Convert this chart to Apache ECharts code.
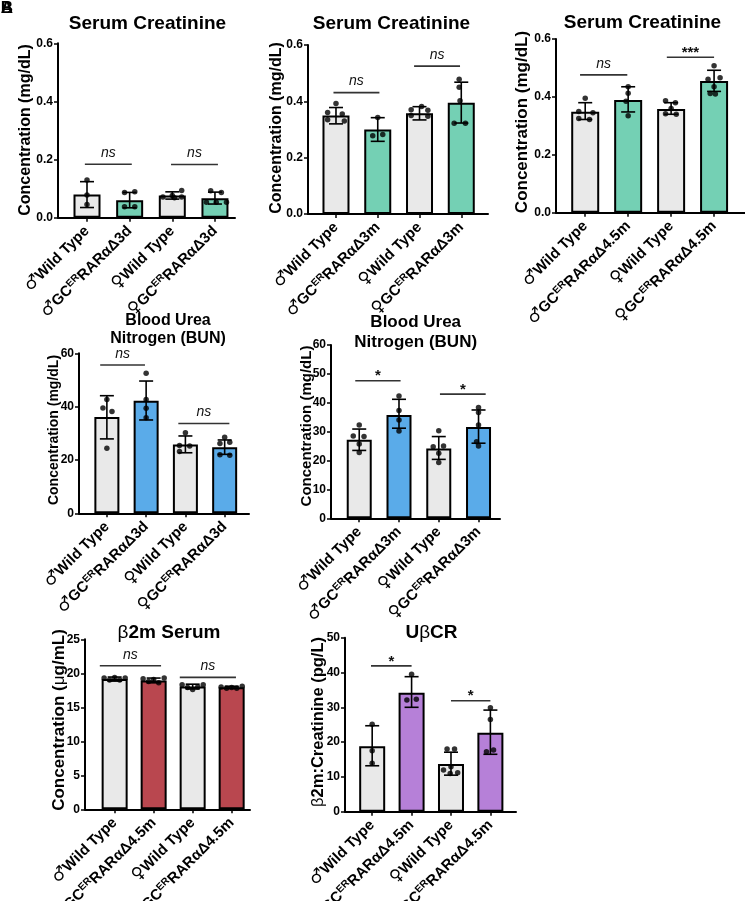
<!DOCTYPE html>
<html>
<head>
<meta charset="utf-8">
<script src="https://cdn.jsdelivr.net/npm/echarts@6.0.0/dist/echarts.min.js"></script>
<style>
  html, body { margin: 0; padding: 0; background: #fff; }
  #main { width: 745px; height: 901px; }
</style>
</head>
<body>
<div id="main"></div>
<script>
// group labels ("^" marks the superscript part)
var cats3d = ['♂Wild Type', '♂GC^ER^RARαΔ3d', '♀Wild Type', '♀GC^ER^RARαΔ3d'];
var cats3m = ['♂Wild Type', '♂GC^ER^RARαΔ3m', '♀Wild Type', '♀GC^ER^RARαΔ3m'];
var cats45 = ['♂Wild Type', '♂GC^ER^RARαΔ4.5m', '♀Wild Type', '♀GC^ER^RARαΔ4.5m'];

// Serum creatinine, 3 days
var creat3dMean = [0.080, 0.060, 0.076, 0.067];
var creat3dSd = [[0.035, 0.124], [0.034, 0.087], [0.064, 0.089], [0.047, 0.088]];
var creat3dPts = [
    [[0, 0.130], [0, 0.078], [0, 0.045]],
    [[-0.12, 0.087], [0.12, 0.089], [-0.12, 0.038], [0.12, 0.038]],
    [[-0.22, 0.071], [0, 0.076], [0.22, 0.094], [0.22, 0.071], [0.05, 0.069]],
    [[-0.1, 0.093], [0.15, 0.087], [-0.2, 0.053], [0.03, 0.053], [0.27, 0.053]]
];
var creat3dSig = [[-0.05, 1.05, 0.184, 'ns'], [1.97, 3.07, 0.183, 'ns']];

// Serum creatinine, 3 months
var creat3mMean = [0.350, 0.300, 0.358, 0.395];
var creat3mSd = [[0.320, 0.378], [0.258, 0.342], [0.334, 0.381], [0.323, 0.468]];
var creat3mPts = [
    [[0, 0.392], [-0.2, 0.360], [0.15, 0.355], [-0.2, 0.335], [0.2, 0.330]],
    [[0, 0.343], [-0.12, 0.278], [0.12, 0.282]],
    [[0.05, 0.382], [-0.2, 0.370], [0.2, 0.368], [-0.2, 0.350], [0.2, 0.347]],
    [[-0.05, 0.478], [-0.05, 0.450], [-0.03, 0.402], [-0.17, 0.322], [0.1, 0.322]]
];
var creat3mSig = [[-0.06, 1.04, 0.431, 'ns'], [1.87, 2.97, 0.525, 'ns']];

// Serum creatinine, 4.5 months
var creat45Mean = [0.349, 0.389, 0.358, 0.455];
var creat45Sd = [[0.322, 0.380], [0.348, 0.435], [0.340, 0.380], [0.419, 0.492]];
var creat45Pts = [
    [[0, 0.395], [-0.15, 0.350], [0.18, 0.345], [-0.15, 0.325], [0.1, 0.322]],
    [[0, 0.435], [0, 0.413], [-0.05, 0.385], [0, 0.335]],
    [[-0.13, 0.387], [0.1, 0.380], [0, 0.360], [-0.13, 0.342], [0.12, 0.340]],
    [[0, 0.508], [-0.14, 0.461], [0.14, 0.466], [0, 0.435], [-0.09, 0.412], [0.03, 0.410]]
];
var creat45Sig = [[-0.12, 0.98, 0.476, 'ns'], [1.9, 3.0, 0.537, '***']];

// BUN, 3 days
var bun3dMean = [36.1, 42.2, 25.8, 24.8];
var bun3dSd = [[27.9, 44.1], [35.0, 49.6], [22.7, 29.0], [22.1, 27.5]];
var bun3dPts = [
    [[0, 42.7], [-0.1, 39.5], [0.13, 38.2], [0, 24.4]],
    [[0, 52.5], [0, 42.7], [0, 39.4], [0, 35.8]],
    [[0, 30.2], [-0.15, 25.4], [0.11, 25.2], [-0.15, 23.2]],
    [[0, 28.5], [-0.12, 26.2], [0.13, 26.6], [-0.12, 22.0], [0.13, 21.8]]
];
var bun3dSig = [[-0.17, 0.97, 55.6, 'ns'], [1.82, 3.12, 33.7, 'ns']];

// BUN, 3 months
var bun3mMean = [27.2, 35.8, 24.2, 31.6];
var bun3mSd = [[23.5, 30.9], [31.2, 41.2], [20.4, 28.3], [26.0, 37.5]];
var bun3mPts = [
    [[0, 32.3], [-0.15, 28.5], [0.12, 28.3], [0, 25.7], [0, 22.8]],
    [[0, 42.3], [0, 37.3], [0, 34.0], [0, 30.2]],
    [[0, 30.3], [-0.14, 24.8], [0.12, 25.0], [0, 22.5], [0, 19.3]],
    [[0, 38.4], [0, 36.6], [0, 32.3], [-0.05, 26.5], [0, 25.0]]
];
var bun3mSig = [[-0.1, 1.04, 47.6, '*'], [2.03, 3.18, 43.0, '*']];

// beta2m serum
var b2mMean = [19.15, 18.95, 18.05, 17.95];
var b2mSd = [[18.85, 19.45], [18.6, 19.3], [17.7, 18.4], [17.8, 18.1]];
var b2mPts = [
    [[-0.27, 19.3], [-0.13, 19.0], [0, 19.4], [0.13, 19.0], [0.27, 19.3]],
    [[-0.27, 19.2], [-0.13, 18.8], [0, 19.1], [0.13, 18.6], [0.27, 19.3]],
    [[-0.27, 18.3], [-0.13, 17.9], [0, 17.6], [0.13, 18.0], [0.27, 18.3]],
    [[-0.27, 18.0], [-0.13, 17.8], [0, 17.9], [0.13, 17.8], [0.27, 18.1]]
];
var b2mSig = [[-0.38, 1.19, 21.1, 'ns'], [1.67, 3.11, 19.4, 'ns']];

// UbetaCR
var ubcrMean = [18.8, 34.2, 13.7, 22.7];
var ubcrSd = [[13.2, 24.7], [30.0, 38.8], [10.5, 17.1], [16.5, 29.2]];
var ubcrPts = [
    [[0, 25.1], [0, 17.5], [0, 13.9]],
    [[0, 39.5], [-0.12, 32.1], [0.12, 32.3]],
    [[-0.1, 18.0], [0.09, 18.0], [-0.19, 12.0], [0, 12.9], [-0.02, 11.0], [0.17, 11.2]],
    [[0, 29.9], [0, 26.5], [-0.1, 17.2], [0.08, 17.7]]
];
var ubcrSig = [[-0.03, 1.0, 41.9, '*'], [2.0, 3.0, 31.9, '*']];

var GRAY = '#e9e9e9';
var FONT = '"Liberation Sans", Arial, sans-serif';
var SYM_FONT = '"DejaVu Sans", sans-serif';

// layout of every panel (pixels), data comes from the arrays above
var panels = [
    {left: 58, top: 43.3, width: 177, height: 174.4, xMin: -0.68, xMax: 3.47, yMax: 0.6, yInt: 0.2, dec: 1, barW: 27,
        cats: cats3d, color: '#74d0b4', mean: creat3dMean, sd: creat3dSd, pts: creat3dPts, sig: creat3dSig},
    {left: 308, top: 45, width: 180, height: 169, xMin: -0.67, xMax: 3.64, yMax: 0.6, yInt: 0.2, dec: 1, barW: 27,
        cats: cats3m, color: '#74d0b4', mean: creat3mMean, sd: creat3mSd, pts: creat3mPts, sig: creat3mSig},
    {left: 556, top: 39, width: 189, height: 173.7, xMin: -0.68, xMax: 3.72, yMax: 0.6, yInt: 0.2, dec: 1, barW: 28,
        cats: cats45, color: '#74d0b4', mean: creat45Mean, sd: creat45Sd, pts: creat45Pts, sig: creat45Sig},
    {left: 79, top: 353.3, width: 170, height: 160, xMin: -0.71, xMax: 3.62, yMax: 60, yInt: 20, dec: 0, barW: 25,
        cats: cats3d, color: '#5aabe9', mean: bun3dMean, sd: bun3dSd, pts: bun3dPts, sig: bun3dSig},
    {left: 331, top: 345, width: 169, height: 173.3, xMin: -0.71, xMax: 3.54, yMax: 60, yInt: 10, dec: 0, barW: 25,
        cats: cats3m, color: '#5aabe9', mean: bun3mMean, sd: bun3mSd, pts: bun3mPts, sig: bun3mSig},
    {left: 85, top: 639.3, width: 165, height: 170, xMin: -0.76, xMax: 3.47, yMax: 25, yInt: 5, dec: 0, barW: 26,
        cats: cats45, color: '#b9474f', mean: b2mMean, sd: b2mSd, pts: b2mPts, sig: b2mSig},
    {left: 345, top: 637.7, width: 171, height: 174, xMin: -0.69, xMax: 3.65, yMax: 50, yInt: 10, dec: 0, barW: 26,
        cats: cats45, color: '#b680d8', mean: ubcrMean, sd: ubcrSd, pts: ubcrPts, sig: ubcrSig}
];

function labelFormatter(cats) {
    return function (v) {
        var s = cats[Math.round(v)];
        if (!s) return '';
        var sym = s.charAt(0);
        var p = s.slice(1).split('^');
        var out = '{g|' + sym + '}';
        if (p.length === 1) return out + '{n|' + p[0] + '}';
        return out + '{n|' + p[0] + '}{s|' + p[1] + '}{n|' + p[2] + '}';
    };
}

function renderErr(params, api) {
    var x = api.value(0);
    var lo = api.coord([x, api.value(1)]);
    var hi = api.coord([x, api.value(2)]);
    var w = 7;
    var st = {stroke: '#000', lineWidth: 1.6};
    return {
        type: 'group',
        children: [
            {type: 'line', shape: {x1: lo[0], y1: lo[1], x2: hi[0], y2: hi[1]}, style: st},
            {type: 'line', shape: {x1: hi[0] - w, y1: hi[1], x2: hi[0] + w, y2: hi[1]}, style: st},
            {type: 'line', shape: {x1: lo[0] - w, y1: lo[1], x2: lo[0] + w, y2: lo[1]}, style: st}
        ]
    };
}

function makeSig(sig) {
    return function (params, api) {
        var s = sig[params.dataIndex];
        var a = api.coord([s[0], s[2]]);
        var b = api.coord([s[1], s[2]]);
        var isNs = s[3] === 'ns';
        return {
            type: 'group',
            children: [
                {type: 'line', shape: {x1: a[0], y1: a[1], x2: b[0], y2: b[1]},
                    style: {stroke: '#333', lineWidth: 1.6}},
                {type: 'text', x: (a[0] + b[0]) / 2, y: isNs ? a[1] - 4 : a[1] + 3,
                    style: {text: s[3], align: 'center', verticalAlign: 'bottom', fill: '#111',
                        font: isNs ? 'italic 14px ' + FONT : 'bold 15px ' + FONT}}
            ]
        };
    };
}

var grids = [], xAxes = [], yAxes = [], series = [];
panels.forEach(function (p, k) {
    grids.push({left: p.left, top: p.top, width: p.width, height: p.height, outerBoundsMode: 'none'});
    xAxes.push({
        type: 'value', gridIndex: k, min: p.xMin, max: p.xMax,
        splitLine: {show: false},
        axisLine: {onZero: false, lineStyle: {color: '#000', width: 2}},
        axisTick: {show: true, customValues: [0, 1, 2, 3], length: 4, lineStyle: {color: '#000', width: 1.5}},
        axisLabel: {
            customValues: [0, 1, 2, 3], rotate: 45, margin: 11,
            formatter: labelFormatter(p.cats),
            rich: {
                g: {fontSize: 17, fontWeight: 'bold', fontFamily: SYM_FONT, color: '#000'},
                n: {fontSize: 15, fontWeight: 'bold', fontFamily: FONT, color: '#000'},
                s: {fontSize: 10, fontWeight: 'bold', fontFamily: FONT, color: '#000', verticalAlign: 'top'}
            }
        }
    });
    yAxes.push({
        type: 'value', gridIndex: k, min: 0, max: p.yMax, interval: p.yInt,
        splitLine: {show: false},
        axisLine: {show: true, onZero: false, lineStyle: {color: '#000', width: 2}},
        axisTick: {show: true, length: 4, lineStyle: {color: '#000', width: 1.5}},
        axisLabel: {
            margin: 5, color: '#000', fontSize: 12, fontWeight: 'bold', fontFamily: FONT,
            formatter: function (v) { return v.toFixed(p.dec); }
        }
    });
    series.push({
        type: 'bar', xAxisIndex: k, yAxisIndex: k, barWidth: p.barW, z: 2,
        data: p.mean.map(function (m, i) {
            return {value: [i, m], itemStyle: {color: i % 2 ? p.color : GRAY}};
        }),
        itemStyle: {borderColor: '#000', borderWidth: 2}
    });
    series.push({
        type: 'custom', xAxisIndex: k, yAxisIndex: k, z: 3,
        renderItem: renderErr,
        encode: {x: 0, y: [1, 2]},
        data: p.sd.map(function (e, i) { return [i, e[0], e[1]]; })
    });
    var pts = [];
    p.pts.forEach(function (grp, i) {
        grp.forEach(function (q) { pts.push([i + q[0], q[1]]); });
    });
    series.push({
        type: 'scatter', xAxisIndex: k, yAxisIndex: k, z: 4,
        symbolSize: 5.5, itemStyle: {color: '#000'},
        data: pts
    });
    series.push({
        type: 'custom', xAxisIndex: k, yAxisIndex: k, z: 4,
        renderItem: makeSig(p.sig),
        encode: {x: [0, 1], y: 2},
        data: p.sig.map(function (s) { return [s[0], s[1], s[2]]; })
    });
});

function txt(x, y, text, size, rot, rich) {
    var o = {
        type: 'text', x: x, y: y, rotation: rot || 0,
        style: {text: text, align: 'center', verticalAlign: 'middle', fill: '#000',
            font: 'bold ' + size + 'px ' + FONT}
    };
    if (rich) o.style.rich = rich;
    return o;
}
function mixRich(size) {
    return {
        b: {fontSize: size, fontWeight: 'bold', fontFamily: FONT, color: '#000'},
        r: {fontSize: size, fontWeight: 'normal', fontFamily: FONT, color: '#000'}
    };
}

var R = Math.PI / 2;
var graphics = [
    txt(7, 8, 'A', 17), txt(7, 8, 'B', 17),
    txt(147.5, 24, 'Serum Creatinine', 19),
    txt(391.5, 24, 'Serum Creatinine', 19),
    txt(642.5, 23, 'Serum Creatinine', 19),
    txt(168, 320.5, 'Blood Urea', 16), txt(168, 339, 'Nitrogen (BUN)', 16),
    txt(415.7, 322.5, 'Blood Urea', 17), txt(415.7, 342, 'Nitrogen (BUN)', 17),
    txt(169, 633, '{r|β}{b|2m Serum}', 19, 0, mixRich(19)),
    txt(431.5, 633, '{b|U}{r|β}{b|CR}', 19, 0, mixRich(19)),
    txt(26, 130, 'Concentration (mg/dL)', 16, R),
    txt(277, 128, 'Concentration (mg/dL)', 16, R),
    txt(522, 122, 'Concentration (mg/dL)', 17, R),
    txt(54, 430, 'Concentration (mg/dL)', 14, R),
    txt(307, 426, 'Concentration (mg/dL)', 15, R),
    txt(59, 720, '{b|Concentration (}{r|μ}{b|g/mL)}', 17, R, mixRich(17)),
    txt(318, 722, '{r|β}{b|2m:Creatinine (pg/L)}', 16.5, R, mixRich(16.5))
];

var chart = echarts.init(document.getElementById('main'));
chart.setOption({
    animation: false,
    backgroundColor: '#fff',
    grid: grids,
    xAxis: xAxes,
    yAxis: yAxes,
    series: series,
    graphic: graphics
});
</script>
</body>
</html>
